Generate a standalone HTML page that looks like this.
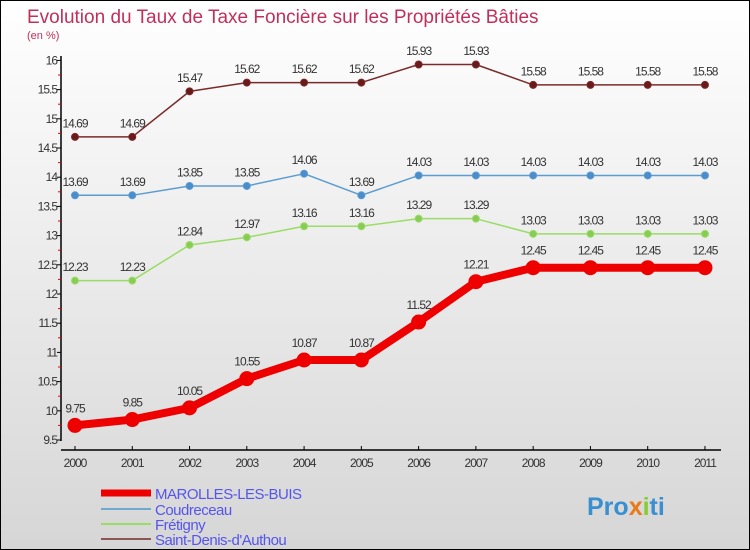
<!DOCTYPE html>
<html><head><meta charset="utf-8"><style>
body{margin:0;}
#c{position:relative;width:748px;height:548px;border:1px solid #000;background:linear-gradient(#fff,#d6d6d6);font-family:"Liberation Sans",sans-serif;overflow:hidden}
</style></head><body>
<div id="c">
<svg id="s" width="748" height="548" style="position:absolute;left:0;top:0">
<text x="26" y="22" font-size="19" fill="#c0305a">Evolution du Taux de Taxe Foncière sur les Propriétés Bâties</text>
<text x="26" y="38" font-size="11" fill="#c0305a">(en %)</text>
<text x="586" y="514" font-size="25" font-weight="bold" fill="#3a8fd0">Pro<tspan fill="#e87a1a">x</tspan><tspan fill="#88cc33">i</tspan>ti</text>
</svg>
</div>
<script>
const years=[2000,2001,2002,2003,2004,2005,2006,2007,2008,2009,2010,2011];
const yTicks=[9.5,10,10.5,11,11.5,12,12.5,13,13.5,14,14.5,15,15.5,16];
const marolles=[9.75,9.85,10.05,10.55,10.87,10.87,11.52,12.21,12.45,12.45,12.45,12.45];
const coudreceau=[13.69,13.69,13.85,13.85,14.06,13.69,14.03,14.03,14.03,14.03,14.03,14.03];
const fretigny=[12.23,12.23,12.84,12.97,13.16,13.16,13.29,13.29,13.03,13.03,13.03,13.03];
const saintDenis=[14.69,14.69,15.47,15.62,15.62,15.62,15.93,15.93,15.58,15.58,15.58,15.58];
const NS="http://www.w3.org/2000/svg",s=document.getElementById('s');
const X=i=>74+i*57.27, Y=v=>439-(v-9.5)*58.4;
function el(t,a,name){const e=document.createElementNS(NS,t);for(const k in a)e.setAttribute(k,a[k]);


s.appendChild(e);return e;}
el('line',{x1:60,y1:55,x2:60,y2:440,stroke:'#000','stroke-width':1.5},'y-axis');
el('line',{x1:60,y1:449,x2:720,y2:449,stroke:'#000','stroke-width':1.5},'x-axis');
yTicks.forEach(v=>{el('line',{x1:56,y1:Y(v),x2:60,y2:Y(v),stroke:'#000'},'y-tick');
if(v<16)el('line',{x1:57,y1:Y(v+0.25),x2:60,y2:Y(v+0.25),stroke:'#e00'},'y-minor-tick');
const t=el('text',{x:56,y:Y(v)+4,'font-size':12,fill:'#333','text-anchor':'end','letter-spacing':'-1'},'y-tick-label');t.textContent=v;});
years.forEach((y,i)=>{el('line',{x1:X(i),y1:445,x2:X(i),y2:449,stroke:'#000'},'x-tick');
const t=el('text',{x:X(i),y:466,'font-size':12,fill:'#333','text-anchor':'middle','letter-spacing':'-1'},'x-tick-label');t.textContent=y;});
function series(d,color,w,r,name,dot){
el('polyline',{points:d.map((v,i)=>X(i)+','+Y(v)).join(' '),fill:'none',stroke:color,'stroke-width':w,'stroke-linejoin':'round'},name+'-line');
d.forEach((v,i)=>{el('circle',{cx:X(i),cy:Y(v),r:r,fill:dot,stroke:color},name+'-point');
const t=el('text',{x:X(i),y:Y(v)-(r+6),'font-size':12,fill:'#333','text-anchor':'middle','letter-spacing':'-1'},name+'-value');t.textContent=v;});}
series(saintDenis,'#7a2a2a',1.5,3.5,'saint-denis','#6a1a1a');
series(coudreceau,'#5b9cd0',1.5,3.5,'coudreceau','#4a8ccc');
series(fretigny,'#99dd66',1.5,3.5,'fretigny','#88cc55');
series(marolles,'#ee0000',8,7,'marolles','#ee0000');
const leg=[['MAROLLES-LES-BUIS','#ee0000',7,492],['Coudreceau','#6fa8d0',2,508],['Frétigny','#99dd66',2,523],['Saint-Denis-d\'Authou','#8a5555',2,538]];
leg.forEach(l=>{el('line',{x1:100,y1:l[3],x2:150,y2:l[3],stroke:l[1],'stroke-width':l[2]},'legend-swatch');
const t=el('text',{x:154,y:l[3]+6,'font-size':15,fill:'#5555ee','letter-spacing':'-0.5'},'legend-entry');t.textContent=l[0];});
</script>
</body></html>
